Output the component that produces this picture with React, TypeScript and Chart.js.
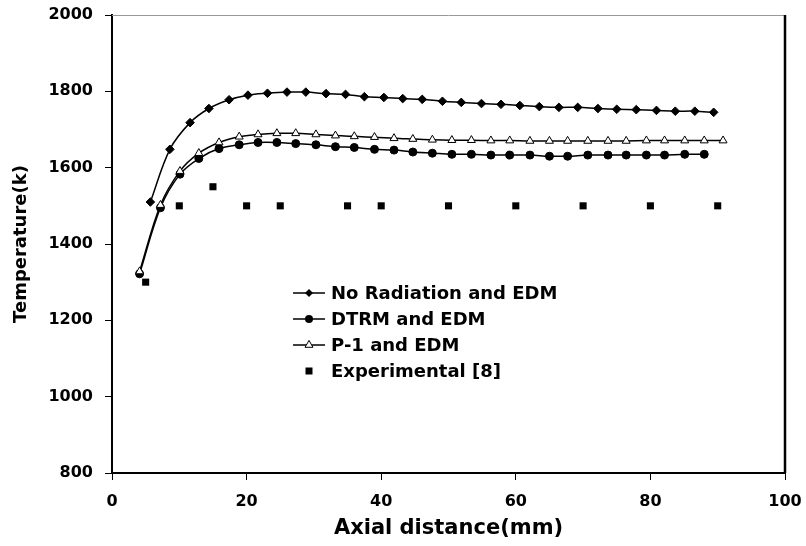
import { useEffect, useRef } from "react";
import { Chart, registerables } from "chart.js";

Chart.register(...registerables);

// ---------- data ----------
const xTicks = [0, 20, 40, 60, 80, 100];
const yTicks = [800, 1000, 1200, 1400, 1600, 1800, 2000];

const noRadX = [5.7, 8.6, 11.6, 14.4, 17.4, 20.2, 23.1, 26.0, 28.8, 31.8, 34.7, 37.5, 40.4, 43.2, 46.1, 49.1, 51.9, 54.9, 57.8, 60.6, 63.5, 66.4, 69.2, 72.2, 75.0, 77.9, 80.9, 83.7, 86.6, 89.4];
const noRadY = [1510, 1648, 1718, 1755, 1778, 1790, 1795, 1798, 1798, 1794, 1792, 1786, 1784, 1781, 1779, 1774, 1771, 1768, 1766, 1763, 1760, 1758, 1758, 1755, 1753, 1752, 1750, 1748, 1748, 1745];

const p1X = [4.1, 7.2, 10.1, 12.9, 15.9, 18.9, 21.7, 24.5, 27.3, 30.3, 33.2, 36.0, 39.0, 41.9, 44.7, 47.6, 50.5, 53.4, 56.3, 59.1, 62.1, 65.0, 67.7, 70.7, 73.7, 76.4, 79.4, 82.1, 85.1, 88.0, 90.8];
const p1Y = [1328, 1502, 1591, 1638, 1666, 1681, 1687, 1690, 1690, 1687, 1684, 1682, 1680, 1677, 1675, 1673, 1672, 1672, 1671, 1671, 1670, 1670, 1670, 1670, 1670, 1670, 1671, 1671, 1671, 1671, 1671];

const dtrmX = [4.1, 7.2, 10.1, 12.9, 15.9, 18.9, 21.7, 24.5, 27.3, 30.3, 33.2, 36.0, 39.0, 41.9, 44.7, 47.6, 50.5, 53.4, 56.3, 59.1, 62.1, 65.0, 67.7, 70.7, 73.7, 76.4, 79.4, 82.1, 85.1, 88.0];
const dtrmY = [1322, 1495, 1583, 1624, 1650, 1660, 1666, 1666, 1663, 1660, 1655, 1653, 1648, 1646, 1641, 1638, 1635, 1635, 1633, 1633, 1633, 1630, 1630, 1633, 1633, 1633, 1633, 1633, 1635, 1635];

const expX = [5, 10, 15, 20, 25, 35, 40, 50, 60, 70, 80, 90];
const expY = [1300, 1500, 1550, 1500, 1500, 1500, 1500, 1500, 1500, 1500, 1500, 1500];

const seriesNames = ["No Radiation and EDM", "DTRM and EDM", "P-1 and EDM", "Experimental [8]"];
const xTitle = "Axial distance(mm)";
const yTitle = "Temperature(k)";

const FONT = "'DejaVu Sans', sans-serif";

const toPts = (xs: number[], ys: number[]) => xs.map((x, i) => ({ x, y: ys[i] }));

function drawMarker(ctx: CanvasRenderingContext2D, kind: string, x: number, y: number) {
  ctx.save();
  ctx.lineWidth = 1;
  ctx.strokeStyle = "#000";
  ctx.fillStyle = "#000";
  ctx.beginPath();
  if (kind === "diamond") {
    ctx.moveTo(x, y - 4);
    ctx.lineTo(x + 4, y);
    ctx.lineTo(x, y + 4);
    ctx.lineTo(x - 4, y);
    ctx.closePath();
    ctx.fill();
  } else if (kind === "circle") {
    ctx.arc(x, y, 4, 0, Math.PI * 2);
    ctx.fill();
  } else if (kind === "triangle") {
    const r = 4.6;
    ctx.moveTo(x, y - r);
    ctx.lineTo(x + r * Math.sin(Math.PI / 3), y + r / 2);
    ctx.lineTo(x - r * Math.sin(Math.PI / 3), y + r / 2);
    ctx.closePath();
    ctx.fillStyle = "#fff";
    ctx.fill();
    ctx.stroke();
  } else {
    ctx.rect(x - 3.5, y - 3.5, 7, 7);
    ctx.fill();
  }
  ctx.restore();
}

export default function App() {
  const ref = useRef<HTMLCanvasElement>(null);

  useEffect(() => {
    document.body.style.margin = "0";
    const canvas = ref.current;
    if (!canvas) return;

    const framePlugin = {
      id: "frame",
      afterDraw(chart: any) {
        const { ctx, chartArea } = chart;
        ctx.save();
        ctx.strokeStyle = "#999";
        ctx.lineWidth = 1;
        ctx.beginPath();
        ctx.moveTo(chartArea.left, chartArea.top + 0.5);
        ctx.lineTo(chartArea.right, chartArea.top + 0.5);
        ctx.stroke();
        ctx.strokeStyle = "#000";
        ctx.lineWidth = 2.5;
        ctx.beginPath();
        ctx.moveTo(chartArea.right, chartArea.top);
        ctx.lineTo(chartArea.right, chartArea.bottom);
        ctx.stroke();
        ctx.restore();
      },
    };

    const legendPlugin = {
      id: "customLegend",
      afterDraw(chart: any) {
        const ctx: CanvasRenderingContext2D = chart.ctx;
        const kinds = ["diamond", "circle", "triangle", "square"];
        const x0 = 293;
        const y0 = 293;
        const dy = 26;
        ctx.save();
        ctx.font = `bold 18px ${FONT}`;
        ctx.textBaseline = "middle";
        ctx.textAlign = "left";
        seriesNames.forEach((name, i) => {
          const y = y0 + i * dy;
          if (kinds[i] !== "square") {
            ctx.strokeStyle = "#000";
            ctx.lineWidth = 1.5;
            ctx.beginPath();
            ctx.moveTo(x0, y);
            ctx.lineTo(x0 + 32, y);
            ctx.stroke();
          }
          drawMarker(ctx, kinds[i], x0 + 16, y);
          ctx.fillStyle = "#000";
          ctx.fillText(name, x0 + 38, y + 1);
        });
        ctx.restore();
      },
    };

    const lineDs = (label: string, data: any[], style: string, radius: number, bg: string) => ({
      label,
      data,
      borderColor: "#000",
      borderWidth: 1.5,
      backgroundColor: bg,
      pointBackgroundColor: bg,
      pointBorderColor: "#000",
      pointBorderWidth: 1,
      pointStyle: style,
      pointRadius: radius,
      pointHoverRadius: radius,
      tension: 0.35,
      fill: false,
    });

    const noPad = (s: any) => {
      s.paddingLeft = 0;
      s.paddingRight = 0;
      s.paddingTop = 0;
      s.paddingBottom = 0;
    };

    const chart = new Chart(canvas, {
      type: "line",
      data: {
        datasets: [
          lineDs(seriesNames[2], toPts(p1X, p1Y), "triangle", 4.6, "#fff"),
          lineDs(seriesNames[1], toPts(dtrmX, dtrmY), "circle", 4, "#000"),
          lineDs(seriesNames[0], toPts(noRadX, noRadY), "rectRot", 4.3, "#000"),
          {
            label: seriesNames[3],
            data: toPts(expX, expY),
            showLine: false,
            borderColor: "#000",
            backgroundColor: "#000",
            pointBackgroundColor: "#000",
            pointBorderColor: "#000",
            pointBorderWidth: 0,
            pointStyle: "rect",
            pointRadius: 5,
            pointHoverRadius: 5,
          } as any,
        ],
      },
      options: {
        responsive: false,
        animation: false,
        events: [],
        layout: { padding: { top: 15, right: 21, left: 0, bottom: 0 } },
        plugins: {
          legend: { display: false },
          tooltip: { enabled: false },
          title: { display: false },
        },
        scales: {
          x: {
            type: "linear",
            min: 0,
            max: 100,
            afterBuildTicks: (s: any) => {
              s.ticks = xTicks.map((v) => ({ value: v }));
            },
            afterFit: (s: any) => {
              s.height = 73;
              noPad(s);
            },
            border: { display: true, color: "#000", width: 2 },
            grid: { display: true, drawOnChartArea: false, drawTicks: true, tickLength: 7, color: "#000", lineWidth: 1 },
            ticks: {
              color: "#000",
              padding: 12,
              maxRotation: 0,
              callback: (v: any) => String(v),
              font: { family: FONT, size: 16, weight: "bold" },
            },
            title: { display: true, text: xTitle, color: "#000", padding: 5, font: { family: FONT, size: 21, weight: "bold" } },
          },
          y: {
            type: "linear",
            min: 800,
            max: 2000,
            afterBuildTicks: (s: any) => {
              s.ticks = yTicks.map((v) => ({ value: v }));
            },
            afterFit: (s: any) => {
              s.width = 112;
              noPad(s);
            },
            border: { display: true, color: "#000", width: 2 },
            grid: { display: true, drawOnChartArea: false, drawTicks: true, tickLength: 7, color: "#000", lineWidth: 1 },
            ticks: {
              color: "#000",
              padding: 12,
              callback: (v: any) => String(v),
              font: { family: FONT, size: 16, weight: "bold" },
            },
            title: { display: true, text: yTitle, color: "#000", padding: 11, font: { family: FONT, size: 18, weight: "bold" } },
          },
        },
      } as any,
      plugins: [framePlugin, legendPlugin],
    });

    return () => chart.destroy();
  }, []);

  return (
    <div style={{ position: "absolute", left: 0, top: 0, width: 806, height: 546, background: "#fff" }}>
      <canvas ref={ref} width={806} height={546} style={{ display: "block", width: 806, height: 546 }} />
    </div>
  );
}
